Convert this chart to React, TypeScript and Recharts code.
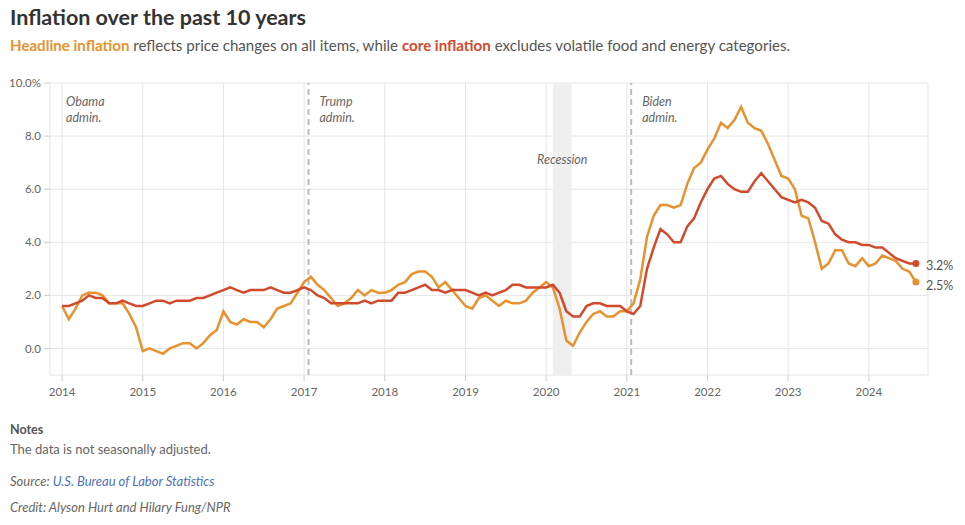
import React from 'react';
import {
  LineChart,
  Line,
  XAxis,
  YAxis,
  CartesianGrid,
  ReferenceLine,
  ReferenceArea,
} from 'recharts';

// Year-over-year CPI change, monthly, Jan 2014 – Aug 2024
const headline = [
  1.6, 1.1, 1.5, 2.0, 2.1, 2.1, 2.0, 1.7, 1.7, 1.7, 1.3, 0.8,
  -0.1, 0.0, -0.1, -0.2, 0.0, 0.1, 0.2, 0.2, 0.0, 0.2, 0.5, 0.7,
  1.4, 1.0, 0.9, 1.1, 1.0, 1.0, 0.8, 1.1, 1.5, 1.6, 1.7, 2.1,
  2.5, 2.7, 2.4, 2.2, 1.9, 1.6, 1.7, 1.9, 2.2, 2.0, 2.2, 2.1,
  2.1, 2.2, 2.4, 2.5, 2.8, 2.9, 2.9, 2.7, 2.3, 2.5, 2.2, 1.9,
  1.6, 1.5, 1.9, 2.0, 1.8, 1.6, 1.8, 1.7, 1.7, 1.8, 2.1, 2.3,
  2.5, 2.3, 1.5, 0.3, 0.1, 0.6, 1.0, 1.3, 1.4, 1.2, 1.2, 1.4,
  1.4, 1.7, 2.6, 4.2, 5.0, 5.4, 5.4, 5.3, 5.4, 6.2, 6.8, 7.0,
  7.5, 7.9, 8.5, 8.3, 8.6, 9.1, 8.5, 8.3, 8.2, 7.7, 7.1, 6.5,
  6.4, 6.0, 5.0, 4.9, 4.0, 3.0, 3.2, 3.7, 3.7, 3.2, 3.1, 3.4,
  3.1, 3.2, 3.5, 3.4, 3.3, 3.0, 2.9, 2.5,
];

const core = [
  1.6, 1.6, 1.7, 1.8, 2.0, 1.9, 1.9, 1.7, 1.7, 1.8, 1.7, 1.6,
  1.6, 1.7, 1.8, 1.8, 1.7, 1.8, 1.8, 1.8, 1.9, 1.9, 2.0, 2.1,
  2.2, 2.3, 2.2, 2.1, 2.2, 2.2, 2.2, 2.3, 2.2, 2.1, 2.1, 2.2,
  2.3, 2.2, 2.0, 1.9, 1.7, 1.7, 1.7, 1.7, 1.7, 1.8, 1.7, 1.8,
  1.8, 1.8, 2.1, 2.1, 2.2, 2.3, 2.4, 2.2, 2.2, 2.1, 2.2, 2.2,
  2.2, 2.1, 2.0, 2.1, 2.0, 2.1, 2.2, 2.4, 2.4, 2.3, 2.3, 2.3,
  2.3, 2.4, 2.1, 1.4, 1.2, 1.2, 1.6, 1.7, 1.7, 1.6, 1.6, 1.6,
  1.4, 1.3, 1.6, 3.0, 3.8, 4.5, 4.3, 4.0, 4.0, 4.6, 4.9, 5.5,
  6.0, 6.4, 6.5, 6.2, 6.0, 5.9, 5.9, 6.3, 6.6, 6.3, 6.0, 5.7,
  5.6, 5.5, 5.6, 5.5, 5.3, 4.8, 4.7, 4.3, 4.1, 4.0, 4.0, 3.9,
  3.9, 3.8, 3.8, 3.6, 3.4, 3.3, 3.2, 3.2,
];

const years = ['2014', '2015', '2016', '2017', '2018', '2019', '2020', '2021', '2022', '2023', '2024'];
const yTicks = [0, 2, 4, 6, 8, 10];

// months counted from Jan 2014
const trumpStart = 36.65;
const bidenStart = 84.65;
const recessionStart = 73;
const recessionEnd = 75.8;

const ORANGE = '#e8912f';
const RED = '#d14a2b';
const FONT = 'Lato, "Noto Sans", sans-serif';

const data = headline.map((h, i) => ({ m: i, headline: h, core: core[i] }));
const lastIdx = data.length - 1;

function AdminLabel({ viewBox, lines, dx = 11 }: any) {
  if (!viewBox) return null;
  return (
    <text x={viewBox.x + dx} y={viewBox.y + 23} fill="#666" fontSize={12.5} fontStyle="italic" fontFamily={FONT}>
      {lines.map((t: string, i: number) => (
        <tspan key={t} x={viewBox.x + dx} dy={i === 0 ? 0 : 16}>
          {t}
        </tspan>
      ))}
    </text>
  );
}

function RecessionLabel({ viewBox }: any) {
  if (!viewBox) return null;
  return (
    <text
      x={viewBox.x + viewBox.width / 2}
      y={viewBox.y + 81}
      textAnchor="middle"
      fill="#666"
      fontSize={12.5}
      fontStyle="italic"
      fontFamily={FONT}
    >
      Recession
    </text>
  );
}

function endDot(color: string) {
  return (props: any) => {
    if (props.index !== lastIdx) return <g key={props.index} />;
    return <circle key={props.index} cx={props.cx} cy={props.cy} r={3.5} fill={color} />;
  };
}

function endLabel(dy: number) {
  return (props: any) => {
    if (props.index !== lastIdx) return null;
    return (
      <text key="end" x={props.x + 10} y={props.y + dy} fill="#555" fontSize={12.5} fontFamily={FONT}>
        {`${props.value}%`}
      </text>
    );
  };
}

export default function App() {
  return (
    <div style={{ position: 'absolute', left: 0, top: 0, width: 965, height: 525, background: '#fff', fontFamily: FONT }}>
      <div style={{ position: 'absolute', left: 10, top: 4, fontSize: 21.5, fontWeight: 700, color: '#333' }}>
        Inflation over the past 10 years
      </div>
      <div style={{ position: 'absolute', left: 10, top: 36, fontSize: 15.1, color: '#555' }}>
        <span style={{ color: ORANGE, fontWeight: 700 }}>Headline inflation</span> reflects price changes on all items,
        while <span style={{ color: RED, fontWeight: 700 }}>core inflation</span> excludes volatile food and energy
        categories.
      </div>

      <div style={{ position: 'absolute', left: 0, top: 70 }}>
        <LineChart width={965} height={340} data={data} margin={{ top: 13, right: 37, bottom: 0, left: 0 }}>
          <CartesianGrid stroke="#e5e5e5" />
          <XAxis
            dataKey="m"
            type="number"
            domain={[-1.8, 128.8]}
            ticks={years.map((_, i) => i * 12)}
            tickFormatter={(v: number) => years[v / 12]}
            tick={{ fill: '#666', fontSize: 11.5, fontFamily: FONT }}
            axisLine={false}
            tickLine={{ stroke: '#ccc' }}
            tickSize={6}
            tickMargin={7}
            height={35}
          />
          <YAxis
            type="number"
            domain={[-1, 10]}
            ticks={yTicks}
            tickFormatter={(v: number) => (v === 10 ? '10.0%' : v.toFixed(1))}
            tick={{ fill: '#666', fontSize: 11.5, fontFamily: FONT }}
            axisLine={false}
            tickLine={{ stroke: '#ccc' }}
            tickSize={6}
            tickMargin={3}
            width={50}
          />
          <ReferenceArea
            x1={recessionStart}
            x2={recessionEnd}
            y1={-1}
            y2={10}
            fill="#efefef"
            fillOpacity={1}
            stroke="none"
            label={<RecessionLabel />}
          />
          <ReferenceLine x={0} stroke="none" label={<AdminLabel lines={['Obama', 'admin.']} dx={4} />} />
          <ReferenceLine
            x={trumpStart}
            stroke="#bbb"
            strokeWidth={2}
            strokeDasharray="6 4"
            label={<AdminLabel lines={['Trump', 'admin.']} />}
          />
          <ReferenceLine
            x={bidenStart}
            stroke="#bbb"
            strokeWidth={2}
            strokeDasharray="6 4"
            label={<AdminLabel lines={['Biden', 'admin.']} />}
          />
          <Line
            type="linear"
            dataKey="headline"
            stroke={ORANGE}
            strokeWidth={2.5}
            dot={endDot(ORANGE)}
            activeDot={false}
            label={endLabel(8)}
            isAnimationActive={false}
          />
          <Line
            type="linear"
            dataKey="core"
            stroke={RED}
            strokeWidth={2.5}
            dot={endDot(RED)}
            activeDot={false}
            label={endLabel(6)}
            isAnimationActive={false}
          />
        </LineChart>
      </div>

      <div style={{ position: 'absolute', left: 10, top: 422, fontSize: 12.5, fontWeight: 700, color: '#555' }}>Notes</div>
      <div style={{ position: 'absolute', left: 10, top: 441, fontSize: 13, color: '#666' }}>
        The data is not seasonally adjusted.
      </div>
      <div style={{ position: 'absolute', left: 10, top: 473, fontSize: 13, color: '#666', fontStyle: 'italic' }}>
        Source: <span style={{ color: '#4a72b8' }}>U.S. Bureau of Labor Statistics</span>
      </div>
      <div style={{ position: 'absolute', left: 10, top: 499, fontSize: 13, color: '#666', fontStyle: 'italic' }}>
        Credit: Alyson Hurt and Hilary Fung/NPR
      </div>
    </div>
  );
}
